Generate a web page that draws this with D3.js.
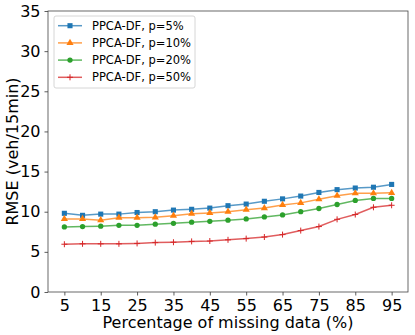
<!DOCTYPE html>
<html lang="en">
<head>
<meta charset="UTF-8">
<script src="https://d3js.org/d3.v7.min.js"></script>
<style>
  body { margin: 0; background: #fff; }
  svg text { font-family: "DejaVu Sans", sans-serif; fill: #000; }
</style>
</head>
<body>
<script>
  const missing = [5, 10, 15, 20, 25, 30, 35, 40, 45, 50, 55, 60, 65, 70, 75, 80, 85, 90, 95];
  const p5 = [9.8, 9.55, 9.7, 9.7, 9.9, 10.0, 10.2, 10.3, 10.45, 10.75, 10.95, 11.3, 11.6, 11.95, 12.4, 12.75, 12.95, 13.05, 13.4];
  const p10 = [9.1, 9.1, 8.95, 9.25, 9.25, 9.3, 9.5, 9.75, 9.85, 10.0, 10.25, 10.45, 10.85, 11.1, 11.55, 12.0, 12.3, 12.3, 12.35];
  const p20 = [8.1, 8.15, 8.2, 8.3, 8.3, 8.45, 8.55, 8.7, 8.8, 8.95, 9.1, 9.35, 9.6, 10.0, 10.4, 10.9, 11.4, 11.65, 11.65];
  const p50 = [5.95, 6.0, 6.0, 6.0, 6.05, 6.15, 6.2, 6.3, 6.35, 6.5, 6.65, 6.85, 7.15, 7.65, 8.15, 9.05, 9.65, 10.55, 10.8];
  const seriesNames = ['PPCA-DF, p=5%', 'PPCA-DF, p=10%', 'PPCA-DF, p=20%', 'PPCA-DF, p=50%'];
  const xTicks = [5, 15, 25, 35, 45, 55, 65, 75, 85, 95];
  const yTicks = [0, 5, 10, 15, 20, 25, 30, 35];

  const series = [
    { name: seriesNames[0], values: p5, color: '#1f77b4', marker: d3.symbolSquare, size: 26 },
    { name: seriesNames[1], values: p10, color: '#ff7f0e', marker: d3.symbolTriangle, size: 22 },
    { name: seriesNames[2], values: p20, color: '#2ca02c', marker: d3.symbolCircle, size: 22 },
    { name: seriesNames[3], values: p50, color: '#d62728', marker: 'plus', size: 0 }
  ];

  const width = 415, height = 335;
  const margin = { left: 48, right: 7, top: 11, bottom: 43 };

  const svg = d3.select('body').append('svg')
    .attr('width', width)
    .attr('height', height);

  const x = d3.scaleLinear().domain([0.5, 99.5]).range([margin.left, width - margin.right]);
  const y = d3.scaleLinear().domain([0, 35]).range([height - margin.bottom, margin.top]);

  // axes
  const xAxis = svg.append('g')
    .attr('transform', `translate(0,${height - margin.bottom})`)
    .call(d3.axisBottom(x).tickValues(xTicks).tickSize(3.5).tickPadding(4));
  xAxis.selectAll('text').style('font-size', '16px');

  const yAxis = svg.append('g')
    .attr('transform', `translate(${margin.left},0)`)
    .call(d3.axisLeft(y).tickValues(yTicks).tickSize(3.5).tickPadding(4));
  yAxis.selectAll('text').style('font-size', '16px');

  svg.selectAll('.domain').remove();
  svg.selectAll('.tick line').attr('stroke', '#333').attr('stroke-width', 0.8);

  svg.append('rect')
    .attr('x', margin.left)
    .attr('y', margin.top)
    .attr('width', width - margin.left - margin.right)
    .attr('height', height - margin.top - margin.bottom)
    .attr('fill', 'none')
    .attr('stroke', '#444')
    .attr('stroke-width', 0.8);

  svg.append('text')
    .attr('x', (margin.left + width - margin.right) / 2)
    .attr('y', 328)
    .attr('text-anchor', 'middle')
    .style('font-size', '16px')
    .text('Percentage of missing data (%)');

  svg.append('text')
    .attr('transform', `translate(18,${(margin.top + height - margin.bottom) / 2}) rotate(-90)`)
    .attr('text-anchor', 'middle')
    .style('font-size', '16px')
    .text('RMSE (veh/15min)');

  const line = d3.line().x((d, i) => x(missing[i])).y(d => y(d));

  function drawMarker(g, s, cx, cy) {
    if (s.marker === 'plus') {
      g.append('path')
        .attr('d', `M${cx - 3},${cy}H${cx + 3}M${cx},${cy - 3}V${cy + 3}`)
        .attr('stroke', s.color)
        .attr('stroke-width', 1);
    } else {
      g.append('path')
        .attr('d', d3.symbol().type(s.marker).size(s.size)())
        .attr('transform', `translate(${cx},${cy})`)
        .attr('fill', s.color);
    }
  }

  series.forEach(s => {
    svg.append('path')
      .datum(s.values)
      .attr('d', line)
      .attr('fill', 'none')
      .attr('stroke', s.color)
      .attr('stroke-opacity', 0.75)
      .attr('stroke-width', 1.5);
    const g = svg.append('g');
    s.values.forEach((v, i) => drawMarker(g, s, x(missing[i]), y(v)));
  });

  // legend
  const legend = svg.append('g');
  legend.append('rect')
    .attr('x', 54).attr('y', 16)
    .attr('width', 141).attr('height', 72)
    .attr('rx', 2)
    .attr('fill', '#fff')
    .attr('fill-opacity', 0.8)
    .attr('stroke', '#ccc')
    .attr('stroke-width', 0.8);

  series.forEach((s, i) => {
    const ly = 25.7 + i * 17.2;
    legend.append('line')
      .attr('x1', 58).attr('x2', 82)
      .attr('y1', ly).attr('y2', ly)
      .attr('stroke', s.color)
      .attr('stroke-opacity', 0.75)
      .attr('stroke-width', 1.5);
    drawMarker(legend, s, 70, ly);
    legend.append('text')
      .attr('x', 92).attr('y', ly)
      .attr('dy', '0.35em')
      .style('font-size', '11.5px')
      .text(s.name);
  });
</script>
</body>
</html>
